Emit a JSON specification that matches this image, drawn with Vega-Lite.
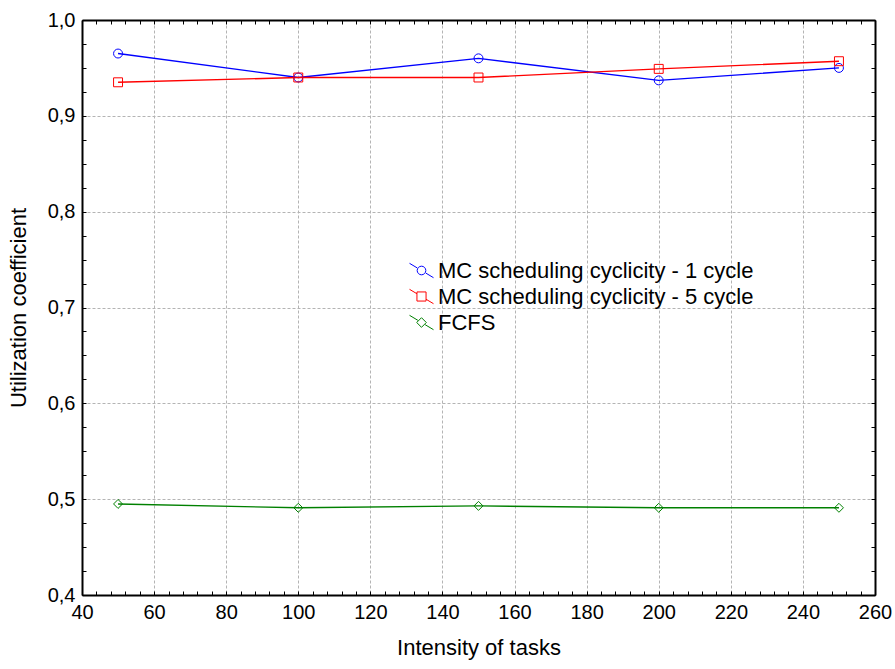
{
  "$schema": "https://vega.github.io/schema/vega-lite/v6.json",
  "autosize": "none",
  "width": 793,
  "height": 575,
  "padding": {"left": 82, "top": 20, "right": 20, "bottom": 74},
  "background": "white",
  "config": {
    "font": "Liberation Sans",
    "view": {"stroke": null},
    "axis": {
      "domainColor": "black",
      "domainWidth": 2,
      "tickColor": "black",
      "tickSize": -4,
      "tickWidth": 1,
      "labelFont": "Liberation Sans",
      "labelFontSize": 20,
      "labelColor": "black",
      "titleFont": "Liberation Sans",
      "titleFontSize": 22,
      "titleFontWeight": "normal",
      "titleColor": "black",
      "gridColor": "#b4b4b4",
      "gridDash": [3, 2],
      "gridWidth": 1
    }
  },
  "data": {
    "values": [
      {"x": 50, "y": 0.965, "series": "MC scheduling cyclicity - 1 cycle"},
      {"x": 100, "y": 0.940, "series": "MC scheduling cyclicity - 1 cycle"},
      {"x": 150, "y": 0.960, "series": "MC scheduling cyclicity - 1 cycle"},
      {"x": 200, "y": 0.937, "series": "MC scheduling cyclicity - 1 cycle"},
      {"x": 250, "y": 0.950, "series": "MC scheduling cyclicity - 1 cycle"},
      {"x": 50, "y": 0.935, "series": "MC scheduling cyclicity - 5 cycle"},
      {"x": 100, "y": 0.940, "series": "MC scheduling cyclicity - 5 cycle"},
      {"x": 150, "y": 0.940, "series": "MC scheduling cyclicity - 5 cycle"},
      {"x": 200, "y": 0.949, "series": "MC scheduling cyclicity - 5 cycle"},
      {"x": 250, "y": 0.957, "series": "MC scheduling cyclicity - 5 cycle"},
      {"x": 50, "y": 0.495, "series": "FCFS"},
      {"x": 100, "y": 0.491, "series": "FCFS"},
      {"x": 150, "y": 0.493, "series": "FCFS"},
      {"x": 200, "y": 0.491, "series": "FCFS"},
      {"x": 250, "y": 0.491, "series": "FCFS"}
    ]
  },
  "layer": [
    {
      "mark": {"type": "line", "strokeWidth": 1.4},
      "encoding": {
        "x": {
          "field": "x", "type": "quantitative",
          "scale": {"domain": [40, 260], "nice": false, "zero": false},
          "axis": {
            "title": "Intensity of tasks",
            "titlePadding": 15,
            "values": [40,44,48,52,56,60,64,68,72,76,80,84,88,92,96,100,104,108,112,116,120,124,128,132,136,140,144,148,152,156,160,164,168,172,176,180,184,188,192,196,200,204,208,212,216,220,224,228,232,236,240,244,248,252,256,260],
            "labelExpr": "datum.value % 20 === 0 ? datum.label : ''",
            "labelPadding": 11,
            "labelFlush": false,
            "labelOverlap": false,
            "grid": true,
            "gridOpacity": {"condition": {"test": "datum.value % 20 === 0", "value": 1}, "value": 0}
          }
        },
        "y": {
          "field": "y", "type": "quantitative",
          "scale": {"domain": [0.4, 1.0], "nice": false, "zero": false},
          "axis": {
            "title": "Utilization coefficient",
            "titlePadding": 17,
            "values": [0.4,0.425,0.45,0.475,0.5,0.525,0.55,0.575,0.6,0.625,0.65,0.675,0.7,0.725,0.75,0.775,0.8,0.825,0.85,0.875,0.9,0.925,0.95,0.975,1.0],
            "labelExpr": "abs(datum.value*10 - round(datum.value*10)) < 0.000001 ? replace(format(datum.value, '.1f'), '.', ',') : ''",
            "labelPadding": 11,
            "labelFlush": false,
            "labelOverlap": false,
            "grid": true,
            "gridOpacity": {"condition": {"test": "abs(datum.value*10 - round(datum.value*10)) < 0.000001", "value": 1}, "value": 0}
          }
        },
        "color": {
          "field": "series", "type": "nominal",
          "scale": {"domain": ["MC scheduling cyclicity - 1 cycle", "MC scheduling cyclicity - 5 cycle", "FCFS"], "range": ["#0000ff", "#ff0000", "#008000"]},
          "legend": null
        },
        "detail": {"field": "series"}
      }
    },
    {
      "mark": {"type": "point", "filled": false, "strokeWidth": 1, "size": 80, "opacity": 1},
      "encoding": {
        "x": {"field": "x", "type": "quantitative", "axis": null},
        "y": {"field": "y", "type": "quantitative", "axis": null},
        "color": {
          "field": "series", "type": "nominal",
          "scale": {"domain": ["MC scheduling cyclicity - 1 cycle", "MC scheduling cyclicity - 5 cycle", "FCFS"], "range": ["#0000ff", "#ff0000", "#008000"]},
          "legend": null
        },
        "shape": {
          "field": "series", "type": "nominal",
          "scale": {"domain": ["MC scheduling cyclicity - 1 cycle", "MC scheduling cyclicity - 5 cycle", "FCFS"], "range": ["circle", "square", "diamond"]},
          "legend": null
        }
      }
    },
    {
      "mark": {"type": "point", "filled": false, "strokeWidth": 1, "opacity": 0},
      "encoding": {
        "x": {
          "field": "x", "type": "quantitative",
          "axis": {
            "orient": "top", "title": null, "labels": false, "grid": false,
            "values": [40,44,48,52,56,60,64,68,72,76,80,84,88,92,96,100,104,108,112,116,120,124,128,132,136,140,144,148,152,156,160,164,168,172,176,180,184,188,192,196,200,204,208,212,216,220,224,228,232,236,240,244,248,252,256,260]
          }
        },
        "y": {
          "field": "y", "type": "quantitative",
          "axis": {
            "orient": "right", "title": null, "labels": false, "grid": false,
            "values": [0.4,0.425,0.45,0.475,0.5,0.525,0.55,0.575,0.6,0.625,0.65,0.675,0.7,0.725,0.75,0.775,0.8,0.825,0.85,0.875,0.9,0.925,0.95,0.975,1.0]
          }
        },
        "color": {
          "field": "series", "type": "nominal",
          "scale": {"domain": ["MC scheduling cyclicity - 1 cycle", "MC scheduling cyclicity - 5 cycle", "FCFS"], "range": ["#0000ff", "#ff0000", "#008000"]},
          "legend": {
            "title": null,
            "orient": "none",
            "legendX": 327,
            "legendY": 238,
            "symbolSize": 576,
            "symbolOpacity": 1,
            "symbolStrokeWidth": 1,
            "symbolFillColor": "transparent",
            "labelFontSize": 22,
            "labelFont": "Liberation Sans",
            "labelColor": "black",
            "labelOffset": 4,
            "rowPadding": 2,
            "padding": 0,
            "labelLimit": 500
          }
        },
        "shape": {
          "field": "series", "type": "nominal",
          "scale": {
            "domain": ["MC scheduling cyclicity - 1 cycle", "MC scheduling cyclicity - 5 cycle", "FCFS"],
            "range": [
              "M-1,-0.6L-0.35,-0.21M0.35,0.21L1,0.6M0.36,0A0.36,0.36 0 1,1 -0.36,0A0.36,0.36 0 1,1 0.36,0Z",
              "M-1,-0.6L-0.38,-0.23M0.38,0.23L1,0.6M-0.38,-0.38L0.38,-0.38L0.38,0.38L-0.38,0.38Z",
              "M-1,-0.6L-0.3,-0.18M0.3,0.18L1,0.6M0,-0.4L0.4,0L0,0.4L-0.4,0Z"
            ]
          },
          "legend": {
            "title": null,
            "orient": "none",
            "legendX": 327,
            "legendY": 238,
            "symbolSize": 576,
            "symbolOpacity": 1,
            "labelFontSize": 22,
            "labelOffset": 4,
            "rowPadding": 2,
            "padding": 0,
            "labelLimit": 500
          }
        }
      }
    }
  ],
  "resolve": {
    "scale": {"shape": "independent", "color": "independent"},
    "axis": {"x": "independent", "y": "independent"}
  }
}
